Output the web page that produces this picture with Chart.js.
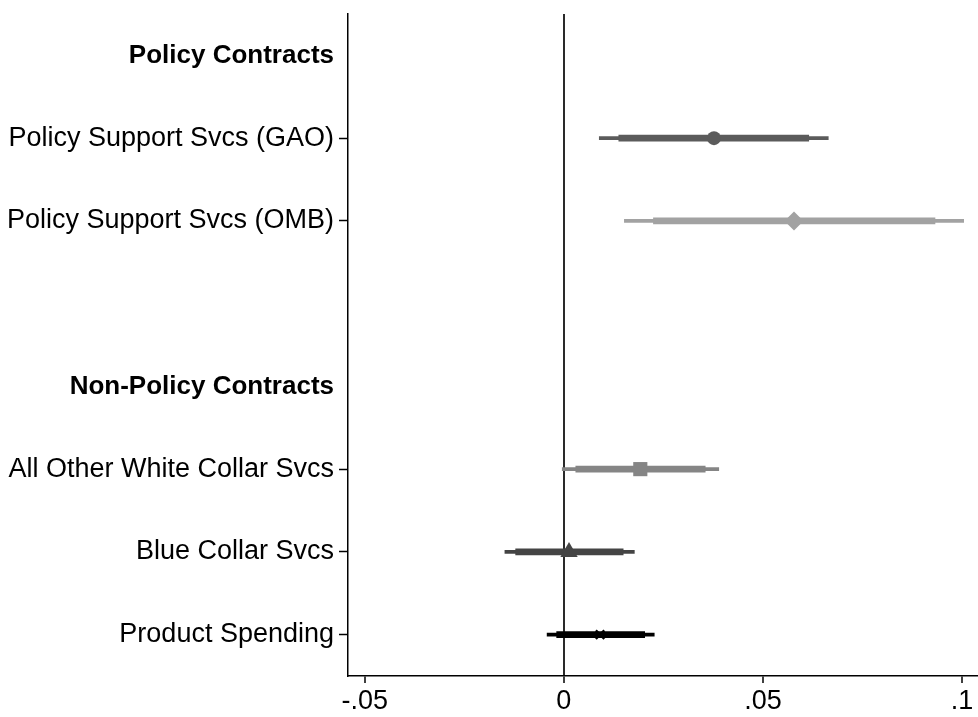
<!DOCTYPE html>
<html>
<head>
<meta charset="utf-8">
<script src="https://cdn.jsdelivr.net/npm/chart.js@4/dist/chart.umd.min.js"></script>
<style>
  html, body { margin: 0; padding: 0; background: #fff; }
  #wrap { width: 978px; height: 717px; position: relative; }
</style>
</head>
<body>
<div id="wrap"><canvas id="c"></canvas></div>
<script>
// ---- Data ----
const categories = [
  'Policy Contracts',
  'Policy Support Svcs (GAO)',
  'Policy Support Svcs (OMB)',
  '',
  'Non-Policy Contracts',
  'All Other White Collar Svcs',
  'Blue Collar Svcs',
  'Product Spending'
];
const headerRows = ['Policy Contracts', 'Non-Policy Contracts'];
const estimates = [null, 0.0377, 0.0578, null, null, 0.0192, 0.0013, 0.0091];
const ciInnerLow  = [null, 0.0138, 0.0225, null, null, 0.0030, -0.0121, -0.0018];
const ciInnerHigh = [null, 0.0615, 0.0932, null, null, 0.0355, 0.0149, 0.0203];
const ciOuterLow  = [null, 0.0089, 0.0152, null, null, -0.0004, -0.0148, -0.0042];
const ciOuterHigh = [null, 0.0664, 0.1004, null, null, 0.0389, 0.0177, 0.0227];
const xTickValues = [-0.05, 0, 0.05, 0.1];
const xTickLabels = ['-.05', '0', '.05', '.1'];

// ---- Styles ----
const seriesColors = [null, '#5b5b5b', '#a2a2a2', null, null, '#858585', '#444444', '#000000'];
const markerStyles = [null, 'circle', 'rectRot', null, null, 'rect', 'triangle', 'crossRot'];
const markerRadius = [0, 7, 9.5, 0, 0, 10, 10, 6];
const FONT = '"Liberation Sans", Arial, Helvetica, sans-serif';

const innerBars = ciInnerLow.map((lo, i) => lo === null ? null : [lo, ciInnerHigh[i]]);
const outerBars = ciOuterLow.map((lo, i) => lo === null ? null : [lo, ciOuterHigh[i]]);
// marker points; header rows (no estimate) placed first and last so they carry zero size
const pointOrder = [0, 1, 2, 5, 6, 7, 4];
const points = pointOrder.map(i => ({ x: estimates[i], y: categories[i], k: i }));

new Chart(document.getElementById('c'), {
  type: 'bar',
  data: {
    labels: categories,
    datasets: [
      {
        type: 'line',
        showLine: false,
        borderWidth: 0,
        data: points,
        order: -1,
        pointStyle: ctx => markerStyles[ctx.raw ? ctx.raw.k : 1] || 'circle',
        pointRadius: ctx => markerRadius[ctx.raw ? ctx.raw.k : 0],
        pointHoverRadius: ctx => markerRadius[ctx.raw ? ctx.raw.k : 0],
        pointBackgroundColor: ctx => seriesColors[ctx.raw ? ctx.raw.k : 1] || 'rgba(0,0,0,0)',
        pointBorderColor: ctx => seriesColors[ctx.raw ? ctx.raw.k : 1] || 'rgba(0,0,0,0)',
        pointBorderWidth: ctx => (ctx.raw && markerStyles[ctx.raw.k] === 'crossRot') ? 2.5 : 0,
        xAxisID: 'x',
        yAxisID: 'y'
      },
      {
        type: 'bar',
        indexAxis: 'y',
        data: innerBars,
        order: 1,
        grouped: false,
        barThickness: 6,
        backgroundColor: seriesColors,
        borderWidth: 0,
        xAxisID: 'x',
        yAxisID: 'y'
      },
      {
        type: 'bar',
        indexAxis: 'y',
        data: outerBars,
        order: 2,
        grouped: false,
        barThickness: 3,
        backgroundColor: seriesColors,
        borderWidth: 0,
        xAxisID: 'x',
        yAxisID: 'y'
      }
    ]
  },
  options: {
    responsive: true,
    maintainAspectRatio: false,
    animation: false,
    layout: { padding: { top: 14, right: 0, left: 0, bottom: 0 } },
    plugins: { legend: { display: false }, tooltip: { enabled: false } },
    scales: {
      x: {
        type: 'linear',
        position: 'bottom',
        offset: false,
        min: -0.0542,
        max: 0.104,
        afterBuildTicks: scale => { scale.ticks = xTickValues.map(v => ({ value: v })); },
        afterFit: scale => { scale.height = 41; scale.paddingLeft = 0; scale.paddingRight = 0; },
        ticks: {
          autoSkip: false,
          maxRotation: 0,
          padding: 2,
          color: '#000',
          font: { family: FONT, size: 27 },
          callback: (value) => {
            const i = xTickValues.findIndex(t => Math.abs(t - value) < 1e-9);
            return i >= 0 ? xTickLabels[i] : '';
          }
        },
        grid: {
          offset: false,
          drawOnChartArea: true,
          drawTicks: true,
          tickLength: 7,
          tickColor: '#000',
          tickWidth: 1.5,
          lineWidth: 2,
          color: ctx => (ctx.tick && Math.abs(ctx.tick.value) < 1e-9) ? '#2a2a2a' : 'rgba(0,0,0,0)'
        },
        border: { display: true, color: '#000', width: 1.5 }
      },
      y: {
        type: 'category',
        position: 'left',
        offset: true,
        afterFit: scale => { scale.width = 348; scale.paddingTop = 0; scale.paddingBottom = 0; },
        ticks: {
          autoSkip: false,
          padding: 5,
          color: '#000',
          font: ctx => {
            const isHeader = ctx.tick && headerRows.includes(ctx.tick.label);
            return { family: FONT, size: isHeader ? 26 : 27, weight: isHeader ? 'bold' : 'normal' };
          }
        },
        grid: {
          offset: false,
          drawOnChartArea: false,
          drawTicks: true,
          tickLength: 9,
          tickWidth: 1.5,
          tickColor: ctx => {
            const lbl = ctx.tick ? ctx.tick.label : '';
            return (lbl === '' || headerRows.includes(lbl)) ? 'rgba(0,0,0,0)' : '#000';
          }
        },
        border: { display: true, color: '#000', width: 1.5 }
      }
    }
  }
});
</script>
</body>
</html>
